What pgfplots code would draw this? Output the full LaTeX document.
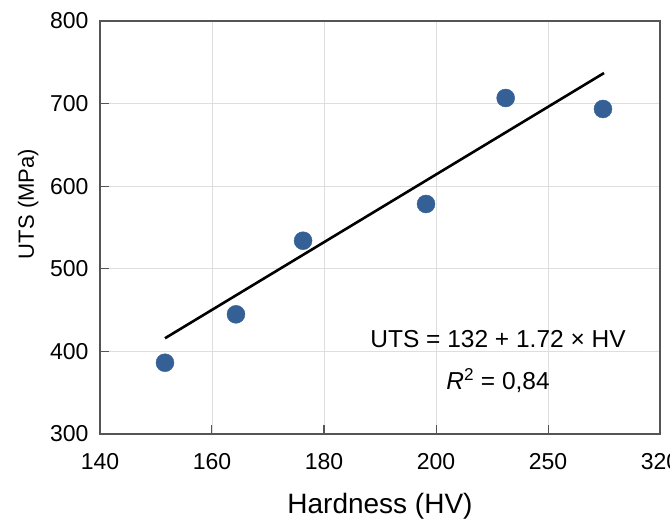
\documentclass[border=0pt]{standalone}
\usepackage{fontspec}
\setmainfont{Liberation Sans}
\usepackage{pgfplots}
\pgfplotsset{compat=1.18}
\definecolor{ptblue}{RGB}{52,96,150}
\definecolor{framegray}{RGB}{85,85,85}
\definecolor{gridgray}{RGB}{222,222,222}
\begin{document}
\begin{tikzpicture}[x=1pt,y=1pt]
\useasboundingbox (-100,-86) rectangle (570,434);
\begin{axis}[
 at={(0,0)}, anchor=south west,
 scale only axis, width=560pt, height=413pt,
 xmin=0, xmax=5, ymin=300, ymax=800,
 xtick={0,1,2,3,4,5}, xticklabels={140,160,180,200,250,320},
 ytick={300,400,500,600,700,800},
 xtick pos=bottom, ytick pos=left,
 grid=major, major grid style={gridgray, line width=0.9pt},
 axis line style={framegray, line width=1.2pt},
 tick style={framegray, line width=1pt},
 major tick length=9pt,
 tick align=inside,
 ticklabel style={font=\fontsize{23}{27}\selectfont},
 /pgf/number format/assume math mode=true,
 yticklabel style={xshift=-8pt},
 xticklabel style={yshift=-16pt},
 clip=false,
]
\addplot[black, line width=2.6pt] coordinates {(0.580,415.9) (4.5,737)};
\addplot[only marks, mark=*, mark size=9pt, mark options={draw=ptblue, fill=ptblue}] coordinates {
 (0.580,386.3) (1.214,444.9) (1.813,534) (2.911,578.5) (3.622,706.8) (4.491,693.5)};
\node[anchor=base, font=\fontsize{24.5}{28}\selectfont] at (axis cs:3.554,405.3) {UTS = 132 + 1.72 × HV};
\node[anchor=base, font=\fontsize{24.5}{28}\selectfont] at (axis cs:3.554,353.3) {\textit{R}\textsuperscript{2} = 0,84};
\end{axis}
\node[anchor=base, font=\fontsize{28}{32}\selectfont] at (280,-79) {Hardness (HV)};
\node[anchor=base, rotate=90, font=\fontsize{22}{26}\selectfont] at (-66,230) {UTS (MPa)};
\end{tikzpicture}
\end{document}
